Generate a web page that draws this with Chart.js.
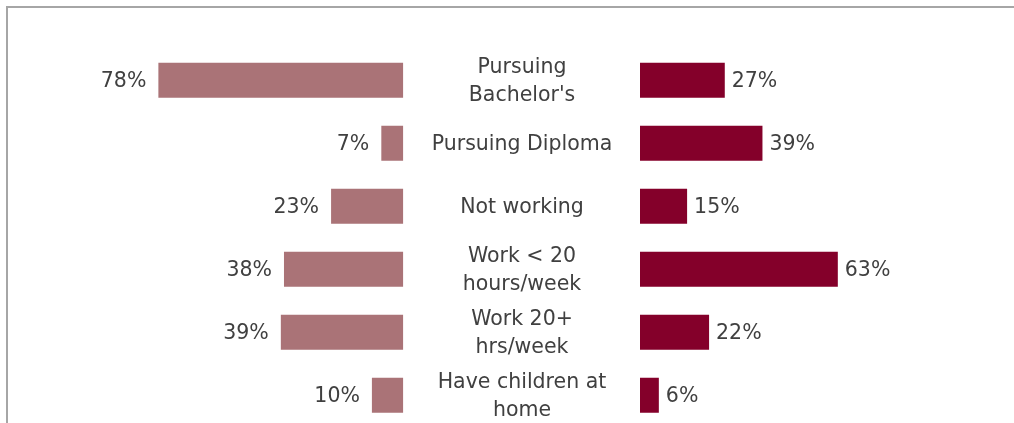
<!DOCTYPE html>
<html>
<head>
<meta charset="utf-8">
<script src="https://cdn.jsdelivr.net/npm/chart.js@4/dist/chart.umd.min.js"></script>
<style>
  html, body { margin: 0; padding: 0; background: #ffffff; overflow: hidden; width: 1014px; height: 423px; }
  #wrap { position: relative; width: 1014px; height: 423px; overflow: hidden; }
  #frame { position: absolute; left: 6px; top: 6px; width: 1100px; height: 500px; border-top: 2px solid #a6a6a6; border-left: 2px solid #a6a6a6; box-sizing: border-box; }
  canvas { position: absolute; left: 0; top: 0; }
</style>
</head>
<body>
<div id="wrap">
  <div id="frame"></div>
  <canvas id="leftChart" width="1014" height="440"></canvas>
  <canvas id="rightChart" width="1014" height="440"></canvas>
</div>
<script>
const categories = [
  ["Pursuing", "Bachelor's"],
  ["Pursuing Diploma"],
  ["Not working"],
  ["Work < 20", "hours/week"],
  ["Work 20+", "hrs/week"],
  ["Have children at", "home"]
];
const leftValues = [78, 7, 23, 38, 39, 10];
const rightValues = [27, 39, 15, 63, 22, 6];
const axisMax = 100;

const FONT = '20.5px "DejaVu Sans", Verdana, sans-serif';
const TEXT_COLOR = '#404040';
const LEFT_COLOR = '#aa7377';
const RIGHT_COLOR = '#84002a';

const valueLabelPlugin = (side) => ({
  id: 'valueLabels' + side,
  afterDatasetsDraw(chart) {
    const ctx = chart.ctx;
    const meta = chart.getDatasetMeta(0);
    const vals = chart.data.datasets[0].data;
    ctx.save();
    ctx.font = FONT;
    ctx.fillStyle = TEXT_COLOR;
    ctx.textBaseline = 'middle';
    meta.data.forEach((bar, i) => {
      const txt = vals[i] + '%';
      if (side === 'left') {
        ctx.textAlign = 'right';
        ctx.fillText(txt, bar.x - 12, bar.y + 1);
      } else {
        ctx.textAlign = 'left';
        ctx.fillText(txt, bar.x + 7, bar.y + 1);
      }
    });
    ctx.restore();
  }
});

const categoryLabelPlugin = {
  id: 'categoryLabels',
  afterDatasetsDraw(chart) {
    const ctx = chart.ctx;
    const yScale = chart.scales.y;
    const lineGap = 28;
    ctx.save();
    ctx.font = FONT;
    ctx.fillStyle = TEXT_COLOR;
    ctx.textBaseline = 'middle';
    ctx.textAlign = 'center';
    categories.forEach((lines, i) => {
      const cy = yScale.getPixelForValue(i);
      const start = cy - (lines.length - 1) * lineGap / 2;
      lines.forEach((ln, j) => {
        ctx.fillText(ln, 522, start + j * lineGap + 1);
      });
    });
    ctx.restore();
  }
};

const labels = categories.map(c => c.join(' '));

const common = (values, color) => ({
  type: 'bar',
  data: {
    labels: labels,
    datasets: [{
      data: values,
      backgroundColor: color,
      borderWidth: 0,
      barPercentage: 0.556,
      categoryPercentage: 1.0
    }]
  }
});

const leftCfg = common(leftValues, LEFT_COLOR);
leftCfg.options = {
  indexAxis: 'y',
  responsive: false,
  animation: false,
  layout: { padding: { left: 89.3, right: 610.7, top: 48.7, bottom: 13.3 } },
  plugins: { legend: { display: false }, tooltip: { enabled: false }, title: { display: false } },
  scales: {
    x: { type: 'linear', min: 0, max: axisMax, reverse: true, display: false },
    y: { display: false }
  }
};
leftCfg.plugins = [valueLabelPlugin('left')];

const rightCfg = common(rightValues, RIGHT_COLOR);
rightCfg.options = {
  indexAxis: 'y',
  responsive: false,
  animation: false,
  layout: { padding: { left: 640, right: 60, top: 48.7, bottom: 13.3 } },
  plugins: { legend: { display: false }, tooltip: { enabled: false }, title: { display: false } },
  scales: {
    x: { type: 'linear', min: 0, max: axisMax, display: false },
    y: { display: false }
  }
};
rightCfg.plugins = [valueLabelPlugin('right'), categoryLabelPlugin];

new Chart(document.getElementById('leftChart'), leftCfg);
new Chart(document.getElementById('rightChart'), rightCfg);
</script>
</body>
</html>
